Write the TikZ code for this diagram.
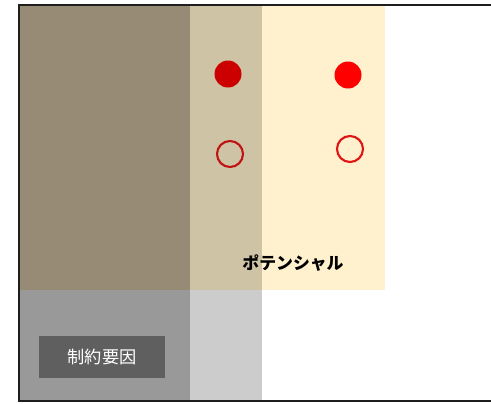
\documentclass[tikz,border=0pt]{standalone}
\usepackage{fontspec}
\newfontfamily\jp{Noto Sans CJK JP}
\begin{document}
\begin{tikzpicture}[x=0.02cm,y=-0.02cm,
  area/.style={draw=none,inner sep=0pt},
  dotfull/.style={circle,inner sep=0pt,minimum size=27*0.02cm},
  dotopen/.style={circle,inner sep=0pt,minimum size=26*0.02cm,line width=1.2pt,fill=none}]
\useasboundingbox (0,0) rectangle (491,403);
\clip (0,0) rectangle (491,403);
\fill[white] (0,0) rectangle (491,403);
% top row
\fill[fill={rgb,255:red,151;green,139;blue,118}] (20,6) rectangle (190,290);
\fill[fill={rgb,255:red,207;green,195;blue,165}] (190,6) rectangle (262,290);
\fill[fill={rgb,255:red,255;green,240;blue,206}] (262,6) rectangle (385,290);
% bottom row
\fill[fill={rgb,255:red,153;green,153;blue,153}] (20,290) rectangle (190,400);
\fill[fill={rgb,255:red,204;green,204;blue,204}] (190,290) rectangle (262,400);
% frame
\draw[line width=1.5pt,color={rgb,255:red,30;green,30;blue,30}] (19,5) rectangle (500,401);
% dots
\node[dotfull,fill={rgb,255:red,204;green,0;blue,0}] (d1) at (228,74) {};
\node[dotfull,fill={rgb,255:red,255;green,0;blue,0}] (d2) at (348,75) {};
\node[dotopen,draw={rgb,255:red,190;green,20;blue,20}] (o1) at (230,154) {};
\node[dotopen,draw={rgb,255:red,225;green,20;blue,20}] (o2) at (350,149) {};
% labels
\node[area,font=\jp\bfseries\fontsize{9.6pt}{11pt}\selectfont] (pot) at (293,263) {ポテンシャル};
\node[area,fill={rgb,255:red,95;green,95;blue,95},minimum width=126*0.02cm,minimum height=42*0.02cm,text=white,font=\jp\fontsize{9.8pt}{11pt}\selectfont] (con) at (102,357) {制約要因};
\end{tikzpicture}
\end{document}
